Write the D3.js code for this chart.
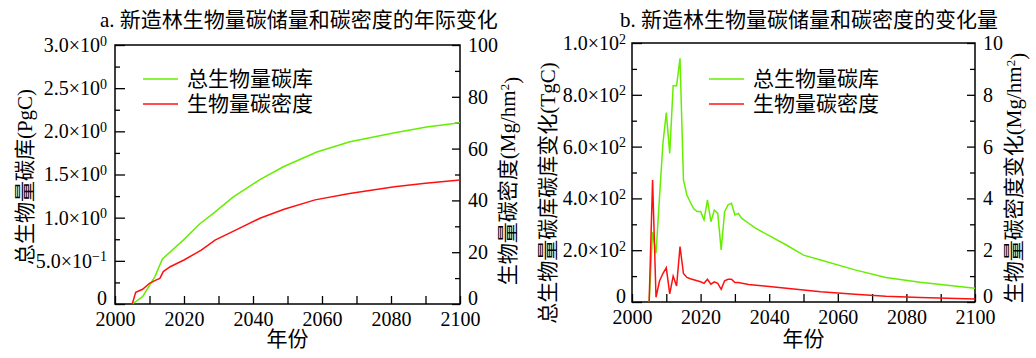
<!DOCTYPE html>
<html>
<head>
<meta charset="utf-8">
<script src="https://cdn.jsdelivr.net/npm/d3@7"></script>
<style>
  body { margin: 0; background: #fff; }
  svg text { font-family: "Liberation Serif", "Times New Roman", "Noto Sans CJK SC", serif; fill: #000; }
</style>
</head>
<body>
<svg id="chart" width="1036" height="358"></svg>
<script>
// panel a: yearly stock (PgC) and density (Mg/hm2)
var stockYears = [2005, 2008, 2011.6, 2013.7, 2019.8, 2024.6, 2028.5, 2034.3, 2042, 2048.8, 2058.5, 2068.1, 2080.7, 2090.3, 2100];
var stockValues = [0, 0.085, 0.32, 0.52, 0.74, 0.93, 1.05, 1.24, 1.44, 1.59, 1.76, 1.88, 1.98, 2.05, 2.10];
var densityYears = [2005, 2006, 2008, 2010, 2012, 2013, 2014, 2016, 2020, 2025, 2029, 2036, 2042, 2049, 2058, 2068, 2081, 2090, 2100];
var densityValues = [0, 4.5, 5.7, 8.0, 9.3, 9.9, 12.5, 14.4, 17.0, 20.8, 24.7, 29.2, 33.1, 36.6, 40.2, 42.7, 45.3, 46.6, 47.9];

// panel b: change of stock (TgC) and density (Mg/hm2)
var stockChangeYears = [2005, 2006, 2007, 2008, 2009, 2010, 2011, 2012, 2013, 2014, 2015, 2016, 2017, 2018, 2019, 2020, 2021, 2022, 2023, 2024, 2025, 2026, 2027, 2028, 2029, 2030, 2031, 2032, 2034, 2036, 2045, 2050, 2055, 2065, 2074, 2084, 2094, 2100];
var stockChangeValues = [0, 270, 188, 400, 610, 731, 574, 835, 835, 941, 471, 413, 385, 360, 349, 349, 317, 394, 310, 355, 342, 201, 349, 375, 381, 336, 342, 323, 304, 285, 220, 181, 162, 124, 95, 76, 62, 53];
var densityChangeYears = [2005, 2006, 2007, 2008, 2009, 2010, 2011, 2012, 2013, 2014, 2015, 2016, 2017, 2019, 2020, 2021, 2022, 2023, 2024, 2025, 2026, 2027, 2028, 2029, 2030, 2031, 2034, 2045, 2055, 2065, 2074, 2084, 2100];
var densityChangeValues = [0, 4.71, 0.18, 0.8, 1.1, 1.32, 0.31, 1.0, 0.62, 2.14, 1.1, 0.95, 0.9, 0.82, 0.78, 0.72, 0.88, 0.69, 0.78, 0.72, 0.49, 0.82, 0.88, 0.88, 0.75, 0.75, 0.68, 0.53, 0.40, 0.30, 0.22, 0.17, 0.12];

// tick labels: [value, base, superscript]
var stockTicks = [[0, "0", ""], [0.5, "5.0×10", "−1"], [1, "1.0×10", "0"], [1.5, "1.5×10", "0"], [2, "2.0×10", "0"], [2.5, "2.5×10", "0"], [3, "3.0×10", "0"]];
var densityTicks = [0, 20, 40, 60, 80, 100];
var stockChangeTicks = [[0, "0", ""], [200, "2.0×10", "2"], [400, "4.0×10", "2"], [600, "6.0×10", "2"], [800, "8.0×10", "2"], [1000, "1.0×10", "2"]];
var densityChangeTicks = [0, 2, 4, 6, 8, 10];
var yearTicks = [2000, 2020, 2040, 2060, 2080, 2100];

var legendNames = ["总生物量碳库", "生物量碳密度"];
var green = "#66ee00", red = "#ff1010";

var svg = d3.select("#chart");
svg.append("rect").attr("width", 1036).attr("height", 358).attr("fill", "#fff");

function drawPanel(p) {
  var x = d3.scaleLinear().domain([2000, 2100]).range([p.left, p.right]);
  var yL = d3.scaleLinear().domain([0, p.maxL]).range([p.bottom, p.top]);
  var yR = d3.scaleLinear().domain([0, p.maxR]).range([p.bottom, p.top]);
  var g = svg.append("g");

  // minor ticks
  g.append("g").attr("transform", "translate(0," + p.bottom + ")")
    .call(d3.axisBottom(x).tickValues(d3.range(2010, 2100, 20)).tickSize(-8).tickSizeOuter(0).tickFormat(""));
  g.append("g").attr("transform", "translate(" + p.left + ",0)")
    .call(d3.axisLeft(yL).tickValues(p.minorL).tickSize(-5).tickSizeOuter(0).tickFormat(""));
  g.append("g").attr("transform", "translate(" + p.right + ",0)")
    .call(d3.axisRight(yR).tickValues(p.minorR).tickSize(-5).tickSizeOuter(0).tickFormat(""));

  // major ticks
  g.append("g").attr("transform", "translate(0," + p.bottom + ")")
    .call(d3.axisBottom(x).tickValues(yearTicks).tickSize(-8).tickSizeOuter(0).tickPadding(8).tickFormat(d3.format("d")));
  var la = g.append("g").attr("transform", "translate(" + p.left + ",0)")
    .call(d3.axisLeft(yL).tickValues(p.ticksL.map(function(t) { return t[0]; })).tickSize(-10).tickSizeOuter(0).tickPadding(p.padL).tickFormat(""));
  var ra = g.append("g").attr("transform", "translate(" + p.right + ",0)")
    .call(d3.axisRight(yR).tickValues(p.ticksR).tickSize(-8).tickSizeOuter(0).tickPadding(8).tickFormat(d3.format("d")));

  la.selectAll(".tick text").each(function(d, i) {
    var t = d3.select(this);
    t.append("tspan").text(p.ticksL[i][1]);
    if (p.ticksL[i][2]) t.append("tspan").attr("dy", "-0.45em").attr("font-size", "14px").text(p.ticksL[i][2]);
  });

  g.selectAll(".tick text").attr("font-size", "20px");
  // zero labels sit a little above the axis line
  la.selectAll(".tick text").filter(function(d) { return d === 0; }).attr("y", -6);
  ra.selectAll(".tick text").filter(function(d) { return d === 0; }).attr("y", -6);
  g.selectAll(".tick line").attr("stroke-width", 1.3);
  g.selectAll(".domain").remove();

  g.append("rect").attr("x", p.left).attr("y", p.top)
    .attr("width", p.right - p.left).attr("height", p.bottom - p.top)
    .attr("fill", "none").attr("stroke", "#000").attr("stroke-width", 1.5);

  // lines
  var lineL = d3.line().x(function(d) { return x(d[0]); }).y(function(d) { return yL(d[1]); });
  var lineR = d3.line().x(function(d) { return x(d[0]); }).y(function(d) { return yR(d[1]); });
  g.append("path").datum(d3.zip(p.greenX, p.greenY)).attr("d", lineL)
    .attr("fill", "none").attr("stroke", green).attr("stroke-width", 1.5);
  g.append("path").datum(d3.zip(p.redX, p.redY)).attr("d", lineR)
    .attr("fill", "none").attr("stroke", red).attr("stroke-width", 1.5);

  // legend
  [green, red].forEach(function(c, i) {
    var ly = p.legY + i * 25;
    g.append("line").attr("x1", p.legX).attr("x2", p.legX + 35).attr("y1", ly).attr("y2", ly)
      .attr("stroke", c).attr("stroke-width", 1.5);
    g.append("text").attr("x", p.legX + 44).attr("y", ly + 7).attr("font-size", "21px").text(legendNames[i]);
  });

  // titles
  g.append("text").attr("x", p.titleX).attr("y", 27).attr("font-size", "21px").text(p.title);
  g.append("text").attr("x", (p.left + p.right) / 2).attr("y", 346).attr("text-anchor", "middle")
    .attr("font-size", "21px").text("年份");

  g.append("text").attr("text-anchor", "middle").attr("font-size", "21px")
    .attr("transform", "translate(" + p.labLX + "," + p.labLY + ") rotate(-90)")
    .text(p.labL);

  var tr = g.append("text").attr("text-anchor", "middle").attr("font-size", "21px")
    .attr("transform", "translate(" + p.labRX + "," + p.labRY + ") rotate(-90)");
  tr.append("tspan").text(p.labR);
  tr.append("tspan").attr("dy", "-0.45em").attr("font-size", "13px").text("2");
  tr.append("tspan").attr("dy", "0.45em").text(")");
}

drawPanel({
  left: 115, right: 460, top: 45, bottom: 304,
  maxL: 3, maxR: 100,
  ticksL: stockTicks, ticksR: densityTicks, padL: 8,
  minorL: [0.25, 0.75, 1.25, 1.75, 2.25, 2.75], minorR: [10, 30, 50, 70, 90],
  greenX: stockYears, greenY: stockValues, redX: densityYears, redY: densityValues,
  legX: 143, legY: 79,
  title: "a. 新造林生物量碳储量和碳密度的年际变化", titleX: 100,
  labL: "总生物量碳库(PgC)", labLX: 32, labLY: 177,
  labR: "生物量碳密度(Mg/hm", labRX: 515, labRY: 181
});

drawPanel({
  left: 632, right: 975, top: 43, bottom: 302,
  maxL: 1000, maxR: 10,
  ticksL: stockChangeTicks, ticksR: densityChangeTicks, padL: 6,
  minorL: [100, 300, 500, 700, 900], minorR: [1, 3, 5, 7, 9],
  greenX: stockChangeYears, greenY: stockChangeValues, redX: densityChangeYears, redY: densityChangeValues,
  legX: 709, legY: 79,
  title: "b. 新造林生物量碳储量和碳密度的变化量", titleX: 620,
  labL: "总生物量碳库碳库变化(TgC)", labLX: 555, labLY: 193,
  labR: "生物量碳密度变化(Mg/hm", labRX: 1021, labRY: 178
});
</script>
</body>
</html>
